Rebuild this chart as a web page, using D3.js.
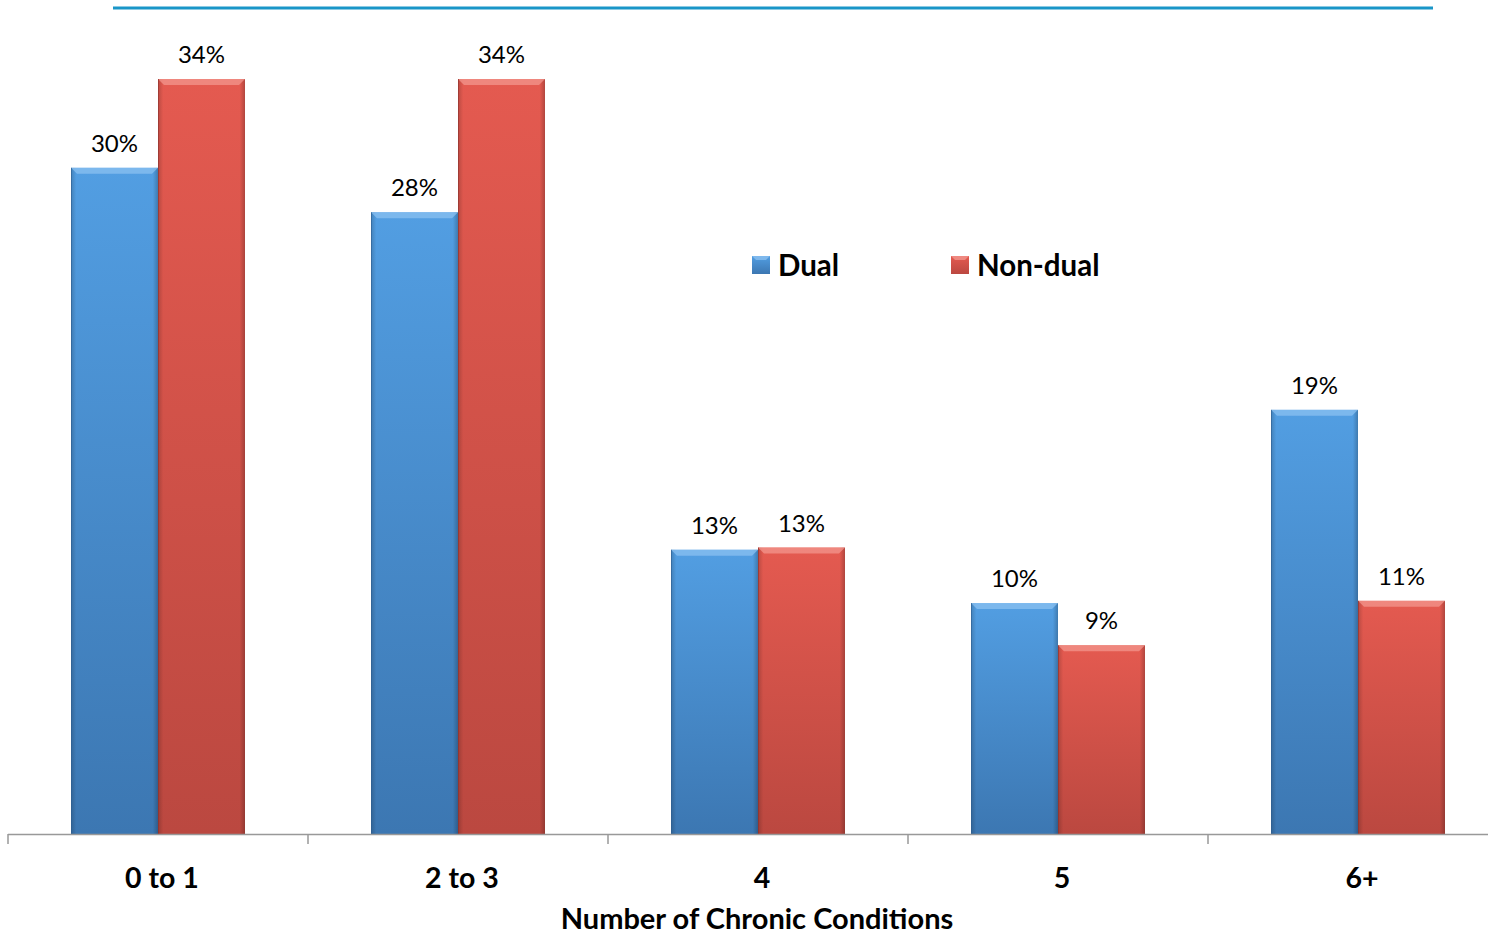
<!DOCTYPE html>
<html><head><meta charset="utf-8">
<script src="https://cdn.jsdelivr.net/npm/d3@7"></script>
<style>body{margin:0;background:#fff}svg{display:block}</style>
</head><body>
<svg id="c" width="1494" height="936"></svg>
<script>
const categories = ["0 to 1", "2 to 3", "4", "5", "6+"];
const seriesNames = ["Dual", "Non-dual"];
const dualValues = [30, 28, 12.8, 10.4, 19.1];
const nonDualValues = [34, 34, 12.9, 8.5, 10.5];
const valueLabels = [["30%","28%","13%","10%","19%"],["34%","34%","13%","9%","11%"]];
const axisTitle = "Number of Chronic Conditions";

const FONT = "Lato, 'Open Sans', sans-serif";
const svg = d3.select("#c");
const defs = svg.append("defs");
const palette = {
  "Dual": {top:"#529ee2", bot:"#3c77b2", hi:"#8fc3f2", edge:"#2f5f92"},
  "Non-dual": {top:"#e45a50", bot:"#bb4840", hi:"#f39a92", edge:"#8f322c"}
};
seriesNames.forEach((s,i)=>{
  const g = defs.append("linearGradient").attr("id","g"+i).attr("x1",0).attr("x2",0).attr("y1",0).attr("y2",1);
  g.append("stop").attr("offset","0%").attr("stop-color",palette[s].top);
  g.append("stop").attr("offset","100%").attr("stop-color",palette[s].bot);
  const h = defs.append("linearGradient").attr("id","h"+i).attr("x1",0).attr("x2",1).attr("y1",0).attr("y2",0);
  h.append("stop").attr("offset","0%").attr("stop-color","#000").attr("stop-opacity",0.18);
  h.append("stop").attr("offset","6%").attr("stop-color","#000").attr("stop-opacity",0);
  h.append("stop").attr("offset","94%").attr("stop-color","#000").attr("stop-opacity",0);
  h.append("stop").attr("offset","100%").attr("stop-color","#000").attr("stop-opacity",0.22);
});

const baseY = 834;
const x0 = d3.scaleBand().domain(categories).range([8, 1508]).paddingInner(0).paddingOuter(0);
const x1 = d3.scaleBand().domain(seriesNames).range([63, 237]).padding(0);
const y = d3.scaleLinear().domain([0, 34]).range([baseY, 79]);

// top decorative line
svg.append("line").attr("x1",113).attr("x2",1433).attr("y1",8).attr("y2",8)
  .attr("stroke","#1a96c8").attr("stroke-width",3);

const data = categories.map((c,i)=>({cat:c, vals:[dualValues[i], nonDualValues[i]], labels:[valueLabels[0][i], valueLabels[1][i]]}));

const groups = svg.append("g").selectAll("g").data(data).join("g")
  .attr("transform", d=>`translate(${x0(d.cat)},0)`);

groups.each(function(d){
  const g = d3.select(this);
  seriesNames.forEach((s,i)=>{
    const bx = x1(s), bw = x1.bandwidth(), ty = y(d.vals[i]), bh = baseY - ty;
    g.append("rect").attr("x",bx).attr("y",ty).attr("width",bw).attr("height",bh)
      .attr("fill",`url(#g${i})`);
    g.append("rect").attr("x",bx).attr("y",ty).attr("width",bw).attr("height",bh)
      .attr("fill",`url(#h${i})`);
    // top bevel
    g.append("path").attr("d",`M${bx},${ty} L${bx+bw},${ty} L${bx+bw-6},${ty+6} L${bx+6},${ty+6} Z`)
      .attr("fill",palette[s].hi).attr("opacity",0.7);
    g.append("line").attr("x1",bx+0.5).attr("x2",bx+0.5).attr("y1",ty).attr("y2",baseY)
      .attr("stroke",palette[s].edge).attr("stroke-width",1).attr("opacity",0.6);
    g.append("text").attr("x",bx+bw/2).attr("y",ty-16).attr("text-anchor","middle")
      .attr("font-family",FONT).attr("font-size",24).attr("fill","#000").text(d.labels[i]);
  });
});

// axis
svg.append("line").attr("x1",8).attr("x2",1488).attr("y1",baseY+0.5).attr("y2",baseY+0.5)
  .attr("stroke","#999").attr("stroke-width",1.5);
svg.append("g").selectAll("line").data(categories).join("line")
  .attr("x1",d=>x0(d)).attr("x2",d=>x0(d)).attr("y1",baseY).attr("y2",baseY+10)
  .attr("stroke","#999").attr("stroke-width",1.5);
svg.append("g").selectAll("text").data(categories).join("text")
  .attr("x",d=>x0(d)+x0.bandwidth()/2+4).attr("y",888).attr("text-anchor","middle")
  .attr("font-family",FONT).attr("font-weight","bold").attr("font-size",28.5).attr("fill","#000").text(d=>d);
svg.append("text").attr("x",757).attr("y",929).attr("text-anchor","middle")
  .attr("font-family",FONT).attr("font-weight","bold").attr("font-size",29).attr("fill","#000").text(axisTitle);

// legend
const legX = [752, 951];
seriesNames.forEach((s,i)=>{
  const lg = svg.append("g").attr("transform",`translate(${legX[i]},256)`);
  lg.append("rect").attr("width",18).attr("height",18).attr("fill",`url(#g${i})`);
  lg.append("path").attr("d","M0,0 L18,0 L14,4 L4,4 Z").attr("fill",palette[s].hi).attr("opacity",0.75);
  lg.append("text").attr("x",26).attr("y",20).attr("font-family",FONT).attr("font-weight","bold")
    .attr("font-size",29.5).attr("fill","#000").text(s);
});
</script>
</body></html>
